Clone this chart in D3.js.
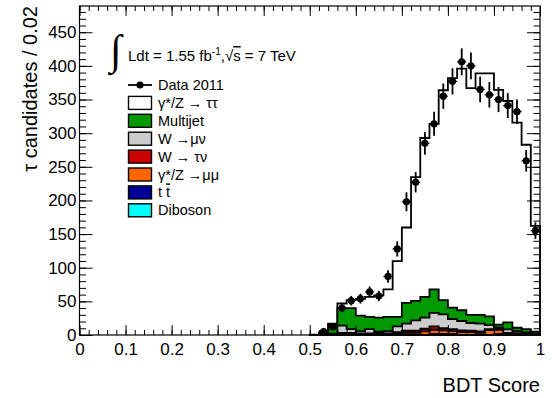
<!DOCTYPE html>
<html>
<head>
<meta charset="utf-8">
<script src="https://cdn.jsdelivr.net/npm/d3@7"></script>
<style>
  body { margin: 0; background: #fff; }
  svg { display: block; font-family: "Liberation Sans", Arial, Helvetica, sans-serif; }
</style>
</head>
<body>
<svg width="552" height="398"></svg>
<script>
// bin lower edges (width 0.02), only the filled part of the histogram
var binLow = [0.50, 0.52, 0.54, 0.56, 0.58, 0.60, 0.62, 0.64, 0.66, 0.68, 0.70, 0.72, 0.74,
              0.76, 0.78, 0.80, 0.82, 0.84, 0.86, 0.88, 0.90, 0.92, 0.94, 0.96, 0.98];
var binWidth = 0.02;

// MC components, bottom of the stack first
var diboson  = [0, 0, 0, 0, 0, 0, 0, 0, 0, 0, 0, 0, 0, 1.5, 1.5, 1.5, 0, 0, 0, 0, 1.5, 0, 0, 0, 0];
var ttbar    = [0, 0, 0, 0.3, 0.3, 0.3, 0.3, 0.3, 0.3, 0.3, 0.3, 0.3, 0.3, 0.3, 0.3, 0.3, 0.3, 0.3, 0.3, 0.3, 0.3, 0.3, 0.3, 0.3, 0.3];
var zmumu    = [0, 0, 0, 2.5, 2.5, 1, 1, 2, 1, 2, 3, 3, 5, 6, 5, 4, 4, 4, 3, 7, 6, 2, 1.5, 1, 0.5];
var wtaunu   = [0, 0, 0, 0.5, 0.5, 1, 1, 1.5, 1, 2, 3, 3, 4, 5, 3.5, 3, 2.5, 2, 2, 1.5, 1.5, 1, 1, 0.5, 0.3];
var wmunu    = [0, 0.5, 2, 10.5, 5.5, 3.5, 6.5, 1, 3.5, 8.5, 10.5, 15.5, 16.5, 20, 20.5, 15, 14, 11.5, 11.5, 6, 2, 5, 3, 2, 1];
var multijet = [0, 2.5, 14, 26, 31, 23, 18, 21, 21, 14, 31, 29, 31, 35, 21, 17, 16, 12, 13, 13, 4, 10.5, 5, 5, 3];
var ztautau  = [0.5, 1, 1, 7, 12, 25, 30, 33, 41, 83, 112, 184, 236, 246, 312, 341, 359, 337, 359, 361, 349, 329, 305, 274, 157];

// data 2011
var dataX   = [0.53, 0.55, 0.57, 0.59, 0.61, 0.63, 0.65, 0.67, 0.69, 0.71, 0.73, 0.75,
               0.77, 0.79, 0.81, 0.83, 0.85, 0.87, 0.89, 0.91, 0.93, 0.95, 0.97, 0.99];
var dataY   = [5, 12, 40, 51, 54, 64, 58, 87, 128, 198, 227, 285,
               314, 355, 377, 406, 400, 365, 357, 350, 341, 332, 259, 155];
var dataErr = [2.2, 3.5, 6.3, 7.1, 7.3, 8, 7.6, 9.3, 11.3, 14.1, 15.1, 16.9,
               17.7, 18.8, 19.4, 20.1, 20, 19.1, 18.9, 18.7, 18.5, 18.2, 16.1, 12.4];

var xMajor = [0, 0.1, 0.2, 0.3, 0.4, 0.5, 0.6, 0.7, 0.8, 0.9, 1];
var yMajor = [0, 50, 100, 150, 200, 250, 300, 350, 400, 450];

var keys   = ["diboson", "ttbar", "zmumu", "wtaunu", "wmunu", "multijet", "ztautau"];
var colors = {diboson: "#00ffff", ttbar: "#000099", zmumu: "#ff6600", wtaunu: "#cc0000",
              wmunu: "#cccccc", multijet: "#009900", ztautau: "#ffffff"};
var legendEntries = [
  {key: "data",     label: "Data 2011"},
  {key: "ztautau",  label: "γ*/Z → ττ"},
  {key: "multijet", label: "Multijet"},
  {key: "wmunu",    label: "W →μν"},
  {key: "wtaunu",   label: "W → τν"},
  {key: "zmumu",    label: "γ*/Z →μμ"},
  {key: "ttbar",    label: "t t"},
  {key: "diboson",  label: "Diboson"}
];

var svg = d3.select("svg");
var x = d3.scaleLinear().domain([0, 1]).range([79.5, 540]);
var y = d3.scaleLinear().domain([0, 489]).range([335, 6]);

// build table for d3.stack
var table = binLow.map(function(b, i) {
  return {lo: b, diboson: diboson[i], ttbar: ttbar[i], zmumu: zmumu[i], wtaunu: wtaunu[i],
          wmunu: wmunu[i], multijet: multijet[i], ztautau: ztautau[i]};
});
var layers = d3.stack().keys(keys)(table);

// step area from 0 to cumulative top; last point repeats to close the last bin
var area = d3.area()
  .curve(d3.curveStepAfter)
  .x(function(d) { return x(d.x); })
  .y0(y(0))
  .y1(function(d) { return y(d.v); });

var stackG = svg.append("g");
layers.slice().reverse().forEach(function(layer) {
  var pts = layer.map(function(d) { return {x: d.data.lo, v: d[1]}; });
  pts.push({x: binLow[binLow.length - 1] + binWidth, v: layer[layer.length - 1][1]});
  stackG.append("path")
    .datum(pts)
    .attr("d", area)
    .attr("fill", colors[layer.key])
    .attr("stroke", "#000")
    .attr("stroke-width", 1.8)
    .attr("stroke-linejoin", "miter");
});

// data points with errors
var dataG = svg.append("g");
dataX.forEach(function(v, i) {
  dataG.append("line")
    .attr("x1", x(v)).attr("x2", x(v))
    .attr("y1", y(dataY[i] - dataErr[i])).attr("y2", y(dataY[i] + dataErr[i]))
    .attr("stroke", "#000").attr("stroke-width", 1.8);
  dataG.append("line")
    .attr("x1", x(v - binWidth / 2)).attr("x2", x(v + binWidth / 2))
    .attr("y1", y(dataY[i])).attr("y2", y(dataY[i]))
    .attr("stroke", "#000").attr("stroke-width", 1.2);
  dataG.append("circle")
    .attr("cx", x(v)).attr("cy", y(dataY[i]))
    .attr("r", 3.6).attr("fill", "#000");
});

// axes: ticks inside on all four sides
var xMinor = d3.range(0, 1.0001, 0.02);
var yMinor = d3.range(0, 481, 10);

function noDomain(g) { g.select(".domain").remove(); }

svg.append("g").attr("transform", "translate(0,335)")
  .call(d3.axisBottom(x).tickValues(xMinor).tickSize(-5).tickFormat(""))
  .call(noDomain);
svg.append("g").attr("transform", "translate(0,335)")
  .call(d3.axisBottom(x).tickValues(xMajor).tickSize(-10).tickPadding(8)
    .tickFormat(function(d) { return d === 0 || d === 1 ? d3.format("d")(d) : d3.format(".1f")(d); }))
  .call(noDomain);
svg.append("g").attr("transform", "translate(0,6)")
  .call(d3.axisTop(x).tickValues(xMinor).tickSize(-5).tickFormat(""))
  .call(noDomain);
svg.append("g").attr("transform", "translate(0,6)")
  .call(d3.axisTop(x).tickValues(xMajor).tickSize(-10).tickFormat(""))
  .call(noDomain);

svg.append("g").attr("transform", "translate(79.5,0)")
  .call(d3.axisLeft(y).tickValues(yMinor).tickSize(-6.5).tickFormat(""))
  .call(noDomain);
svg.append("g").attr("transform", "translate(79.5,0)")
  .call(d3.axisLeft(y).tickValues(yMajor).tickSize(-13).tickPadding(3).tickFormat(d3.format("d")))
  .call(noDomain);
svg.append("g").attr("transform", "translate(540,0)")
  .call(d3.axisRight(y).tickValues(yMinor).tickSize(-6.5).tickFormat(""))
  .call(noDomain);
svg.append("g").attr("transform", "translate(540,0)")
  .call(d3.axisRight(y).tickValues(yMajor).tickSize(-13).tickFormat(""))
  .call(noDomain);

svg.selectAll(".tick line").attr("stroke", "#000").attr("stroke-width", 1);
svg.selectAll(".tick text")
  .attr("font-family", "Liberation Sans, Arial, sans-serif")
  .attr("font-size", 17).attr("fill", "#000");

// frame
svg.append("rect")
  .attr("x", 79.5).attr("y", 6).attr("width", 540 - 79.5).attr("height", 335 - 6)
  .attr("fill", "none").attr("stroke", "#000").attr("stroke-width", 1.2);

// axis titles
svg.append("text")
  .attr("transform", "translate(37,6) rotate(-90)")
  .attr("text-anchor", "end")
  .attr("font-size", 20)
  .text("τ candidates / 0.02");
svg.append("text")
  .attr("x", 540).attr("y", 392)
  .attr("text-anchor", "end")
  .attr("font-size", 20)
  .text("BDT Score");

// luminosity label
svg.append("text")
  .attr("x", 110).attr("y", 64)
  .attr("font-family", "Liberation Serif")
  .attr("font-size", 42)
  .text("∫");
var lumi = svg.append("text").attr("x", 128).attr("y", 61).attr("font-size", 15);
lumi.append("tspan").text("Ldt = 1.55 fb");
lumi.append("tspan").attr("dy", -6).attr("font-size", 10).text("-1");
lumi.append("tspan").attr("dy", 6).text(",√");
lumi.append("tspan").style("text-decoration", "overline").text("s");
lumi.append("tspan").text(" = 7 TeV");

// legend
var leg = svg.append("g");
legendEntries.forEach(function(e, i) {
  var cy = 85 + i * 17.9;
  if (e.key === "data") {
    leg.append("line").attr("x1", 128).attr("x2", 152).attr("y1", cy).attr("y2", cy)
      .attr("stroke", "#000").attr("stroke-width", 1.8);
    leg.append("circle").attr("cx", 140).attr("cy", cy).attr("r", 3.6).attr("fill", "#000");
  } else {
    leg.append("rect").attr("x", 128.5).attr("y", cy - 6.5).attr("width", 23).attr("height", 13)
      .attr("fill", colors[e.key]).attr("stroke", "#000").attr("stroke-width", 1.4);
  }
  var t = leg.append("text").attr("x", 158).attr("y", cy + 5).attr("font-size", 14.5);
  if (e.key === "ttbar") {
    t.append("tspan").text("t ");
    t.append("tspan").style("text-decoration", "overline").text("t");
  } else {
    t.text(e.label);
  }
});
</script>
</body>
</html>
